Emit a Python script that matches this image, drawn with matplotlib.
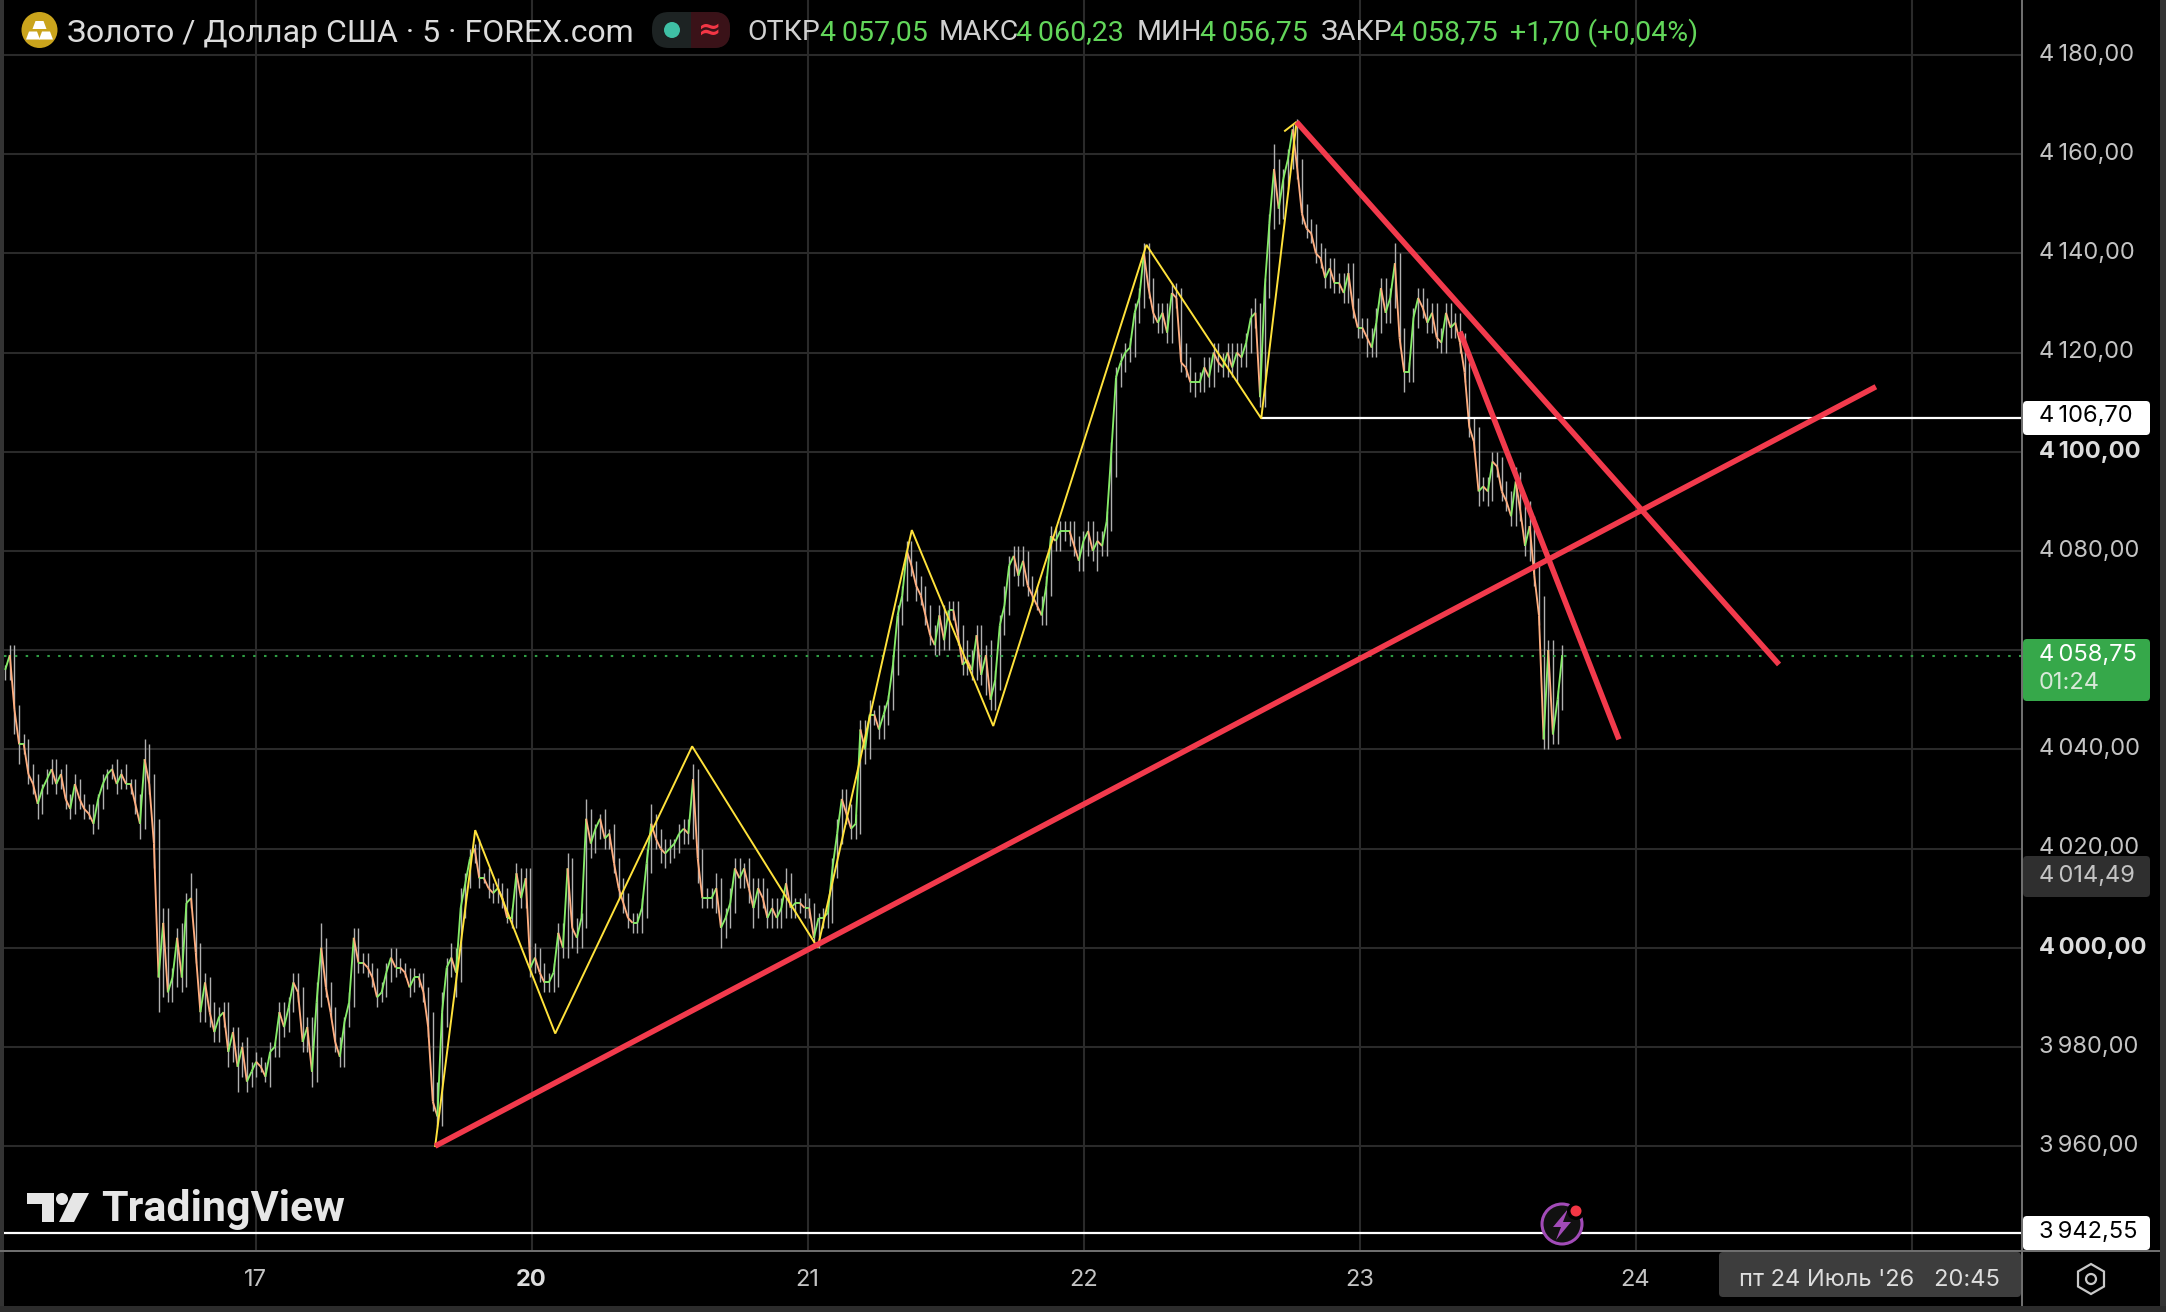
import matplotlib
matplotlib.use("Agg")
import matplotlib.pyplot as plt
from matplotlib.collections import LineCollection
from matplotlib.patches import Circle, FancyBboxPatch, Polygon, Rectangle, RegularPolygon

W, H = 2166, 1312
FONT = ["Roboto", "DejaVu Sans"]
AXFONT = ["Inter", "DejaVu Sans"]
plt.rcParams["font.family"] = FONT

# ---------- data ----------
day_labels = ["17", "20", "21", "22", "23", "24"]
price_ticks = [4180, 4160, 4140, 4120, 4100, 4080, 4060, 4040, 4020, 4000, 3980, 3960]
bold_ticks = [4100, 4000]

closes = [
 4056,4059,4048,4041,4041,4035,4033,4029,4032,4034,
 4036,4033,4035,4030,4028,4033,4030,4028,4027,4025,
 4030,4033,4035,4036,4033,4035,4033,4033,4029,4025,
 4038,4033,4021,3994,4005,3991,3994,4002,3994,4009,
 4010,3999,3987,3993,3987,3983,3986,3987,3979,3983,
 3976,3980,3973,3975,
 3977,3976,3974,3979,3980,3987,3984,3988,3993,3991,
 3981,3984,3975,3989,4000,3992,3987,3981,3978,3985,
 3989,4002,3997,3997,3996,3994,3990,3991,3995,3998,
 3996,3996,3995,3992,3994,3994,3991,3984,3969,3966,
 3987,3996,3998,3995,4008,4013,4018,4020,4014,4014,
 4012,4011,4012,4010,4006,4006,4015,4010,4014,
 3996,3998,3995,3993,3993,3995,4003,4000,4016,4004,
 4002,4006,4026,4021,4024,4026,4022,4023,4017,4012,
 4009,4006,4005,4005,4008,4017,4025,4022,4020,4019,
 4020,4021,4023,4024,4023,4034,4018,4010,4010,4010,
 4012,4004,4006,4009,4016,4014,4016,4012,4008,4012,
 4010,4006,4008,4006,4008,4013,4008,4009,4009,4008,
 4008,4002,4006,4006,4007,4016,4023,4030,4027,4024,4025,
 4044,4040,4047,4047,4044,4047,4050,4057,4067,4071,
 4080,4077,4073,4071,4067,4063,4061,4067,4062,4068,
 4068,4063,4057,4058,4056,4063,4055,4059,4050,4054,
 4065,4069,4077,4079,4075,4078,4073,4071,4069,4067,
 4073,4083,4082,4084,4084,4084,4081,4078,4082,4084,4080,4082,4081,
 4086,4100,
 4115,4118,4120,4121,4128,4131,4140,4133,4128,4126,
 4128,4124,4132,4131,4118,4117,4114,4114,4114,4117,
 4115,4120,4118,4117,4120,4117,4120,4119,4122,4127,
 4128,4111,
 4133,4146,4157,4149,4155,4159,4165,4157,4148,4145,
 4144,4140,4139,4135,4137,4134,4134,4132,4136,4129,
 4125,4125,4123,4121,4126,4133,4128,4131,4138,4123,
 4116,4116,4127,4131,4129,4126,4128,4123,4122,4128,
 4125,4126,4122,4116,4105,
 4102,4092,4093,4092,4098,4097,4092,4090,4087,4094,
 4088,4081,4085,4075,4067,4042,4060,4043,4050,4059,
]
wick_up = [
 1,2,2,1,2,1,2,2,1,2, 2,2,1,2,1,2,1,1,1,2, 1,2,1,1,2,1,2,1,1,2, 4,3,2,5,3,3,2,2,3,2, 5,2,2,2,1,2,2,2,2,1, 1,1,2,2,
 2,1,1,2,1,2,2,2,2,2, 1,2,2,4,5,2,1,1,1,1, 2,2,2,2,2,1,2,2,2,2, 2,2,1,1,2,1,1,1,3,4, 4,2,3,2,4,2,2,1,2,1, 2,1,2,1,2,2,2,1,2,
 2,3,2,2,2,2,2,2,3,2, 2,1,4,2,1,1,2,1,2,1, 2,2,1,2,2,3,4,2,2,2, 2,1,2,2,2,3,2,2,2,2, 3,2,2,3,2,2,1,2,2,2, 2,2,2,2,2,3,2,1,1,2,
 2,1,1,2,2,2,3,2,2,2,2, 2,2,3,1,2,2,1,2,2,2, 2,2,1,2,2,2,2,2,2,2, 2,2,2,4,2,2,2,2,3,2, 2,4,2,2,2,3,2,2,2,2, 2,2,2,2,2,2,2,2,2,2,2,2,2, 2,2,
 2,2,2,2,2,2,2,2,2,2, 2,2,2,2,2,4,2,2,2,2, 2,2,2,2,2,2,2,2,2,2, 3,2,
 2,2,5,2,2,2,1,2,2,2, 2,2,2,2,2,2,2,2,2,2, 2,2,2,2,3,2,2,2,4,2, 2,2,2,2,2,2,2,2,2,2, 2,2,2,2,2,
 2,3,2,2,2,2,2,2,2,3, 2,2,5,2,2,4,2,2,2,2,
]
wick_dn = [
 2,2,5,4,2,2,2,3,2,1, 1,2,1,2,2,1,2,2,1,2, 1,2,1,1,2,1,1,2,2,3, 1,2,5,7,4,2,2,2,3,2, 1,2,2,2,3,2,2,2,3,2, 5,2,2,1,
 1,1,1,2,1,2,2,1,1,2, 2,2,3,2,1,2,1,2,2,2, 1,1,2,2,2,2,2,1,1,2, 2,1,1,2,1,2,2,2,2,2, 2,3,2,5,2,2,1,1,2,1, 2,2,2,2,1,2,2,2,2,
 2,1,2,2,2,2,3,2,2,4, 3,2,2,3,2,2,2,2,2,2, 2,2,2,2,2,2,2,2,3,3, 2,2,2,2,2,1,5,2,2,2, 3,4,2,2,2,2,2,3,4,2, 2,2,2,2,2,2,2,2,2,2,
 2,2,2,2,2,2,2,2,2,2,2, 2,3,2,2,2,2,2,2,2,2, 1,2,3,2,2,2,2,2,2,2, 2,2,2,2,2,2,2,4,2,2, 2,2,2,2,2,2,2,2,1,2, 2,2,2,2,2,3,2,2,2,3,2,4,2, 2,2,
 5,2,2,2,2,2,2,2,2,2, 2,2,2,2,2,2,2,3,2,2, 2,2,2,2,2,2,3,2,2,2, 2,2,
 2,2,1,3,2,2,2,2,2,2, 2,2,2,2,2,2,2,2,2,2, 2,2,4,2,2,2,2,2,2,2, 4,2,2,2,2,2,2,2,2,2, 2,2,2,2,2,
 2,3,2,3,2,2,2,2,2,2, 2,2,3,2,2,2,2,2,2,2,
]
first_bar_day = -0.907
bar_step_day = 0.01684

zigzag_days = [0.651, 0.796, 1.086, 1.582, 2.037, 2.378, 2.673, 3.228, 3.644, 3.772, 3.730]
zigzag_prices = [3960, 4023.7, 3982.7, 4040.6, 4000, 4084.2, 4044.7, 4141.7, 4106.7, 4166.5, 4164.7]
trend_up_days, trend_up_prices = [0.651, 5.871], [3960, 4113.1]
trend_dn_days, trend_dn_prices = [3.772, 5.520], [4166.5, 4057.1]
trend_steep_days, trend_steep_prices = [4.364, 4.940], [4124.2, 4042]
level_hi, level_hi_day = 4106.7, 3.644
level_lo = 3942.55
last_price = 4058.75

# ---------- frame ----------
fig = plt.figure(figsize=(W / 100, H / 100), dpi=100, facecolor="black")
L, R, B = 4, 2021, 1250
ax = fig.add_axes([L / W, 1 - B / H, (R - L) / W, B / H], facecolor="black", zorder=1)
ax.set_xlim((L - 255.5) / 276, (R - 255.5) / 276)
ax.set_ylim(4100 - (B - 451.7) / 4.96, 4100 + 451.7 / 4.96)
for s in ax.spines.values():
    s.set_visible(False)
ax.tick_params(left=False, bottom=False, labelleft=False, labelbottom=False)
ax.set_xticks(range(7))
ax.set_yticks(price_ticks)
ax.grid(True, color="#2a2a2a", lw=1.5)
ax.set_axisbelow(True)

# ---------- candles ----------
opens = [closes[0]] + closes[:-1]
xs = [first_bar_day + i * bar_step_day for i in range(len(closes))]
highs = [max(o, c) + u for o, c, u in zip(opens, closes, wick_up)]
lows = [min(o, c) - d for o, c, d in zip(opens, closes, wick_dn)]
ax.vlines(xs, lows, highs, color="#b0b0b0", lw=1.0, zorder=2)
body_colors = ["#86ec68" if c >= o else "#ffae80" for o, c in zip(opens, closes)]
segs = [[(xs[max(i - 1, 0)], opens[i]), (xs[i], closes[i])] for i in range(len(closes))]
ax.add_collection(LineCollection(segs, colors=body_colors, linewidths=1.35, zorder=3))

# ---------- levels & drawings ----------
ax.axhline(last_price, color="#2f9e44", lw=1.5, ls=(0, (1.2, 4)), zorder=2)
ax.plot([level_hi_day, 7], [level_hi, level_hi], color="white", lw=1.6, zorder=4, solid_capstyle="butt")
ax.axhline(level_lo, color="white", lw=1.6, zorder=4)
ax.plot(zigzag_days, zigzag_prices, color="#ffe23b", lw=1.4, zorder=5, solid_joinstyle="miter")
red = "#f23a4c"
for dx, dy in [(trend_up_days, trend_up_prices), (trend_dn_days, trend_dn_prices),
               (trend_steep_days, trend_steep_prices)]:
    ax.plot(dx, dy, color=red, lw=4.0, zorder=6, solid_capstyle="butt")

# ---------- chrome overlay in pixels ----------
ov = fig.add_axes([0, 0, 1, 1], zorder=2)
ov.set_xlim(0, W)
ov.set_ylim(H, 0)
ov.axis("off")
ov.patch.set_alpha(0)

ov.add_patch(Rectangle((0, 0), 4, H, color="#333333", lw=0))
ov.add_patch(Rectangle((2160, 0), 6, H, color="#333333", lw=0))
ov.add_patch(Rectangle((0, 1306), W, 6, color="#2c2c2c", lw=0))
ov.add_patch(Rectangle((R, 0), 2.2, 1306, color="#6e6e6e", lw=0))
ov.add_patch(Rectangle((0, B), 2160, 2.2, color="#6e6e6e", lw=0))


def box(x0, y0, x1, y1, color):
    ov.add_patch(FancyBboxPatch((x0, y0), x1 - x0, y1 - y0, boxstyle="round,pad=0,rounding_size=4",
                                fc=color, ec="none", zorder=8))


GREY = "#c4c4c4"
FS = 17.0


def ptext(y, s, color, **kw):
    ov.text(2039, y, s, color=color, fontsize=FS, va="center", ha="left", family=AXFONT, **kw)


for p in price_ticks:
    y = 451.7 + (4100 - p) * 4.96
    s = f"{p // 1000}\u2009{p % 1000:03d},00"
    ptext(y, s, "#dddddd" if p in bold_ticks else GREY,
          fontweight="bold" if p in bold_ticks else "normal", zorder=7)

box(2023, 401, 2150, 435, "white")
ptext(416.5, "4\u2009106,70", "black", zorder=9)
box(2023, 856, 2150, 897, "#2f2f2f")
ptext(875.5, "4\u2009014,49", GREY, zorder=9)
box(2023, 639, 2150, 701, "#36a84a")
ptext(655, "4\u2009058,75", "white", zorder=9)
ptext(683, "01:24", "#d8e8d8", zorder=9)
box(2023, 1216, 2150, 1250, "white")
ptext(1232.5, "3\u2009942,55", "black", zorder=9)

for i, d in enumerate(day_labels):
    ov.text(255.5 + 276 * i, 1280, d, color="#dddddd" if d == "20" else GREY, fontsize=17, family=AXFONT,
            fontweight="bold" if d == "20" else "normal", ha="center", va="center", zorder=7)
box(1719, 1252, R, 1297, "#3d3d3d")
ov.text(1869, 1280, "пт 24 Июль '26   20:45", color="#dedede", fontsize=17, ha="center", va="center",
        family=AXFONT, zorder=9)
ov.add_patch(RegularPolygon((2091, 1279), 6, radius=15, fc="none", ec="#c8c8c8", lw=1.6, zorder=7))
ov.add_patch(Circle((2091, 1279), 5, fc="none", ec="#c8c8c8", lw=1.6, zorder=7))

# lightning badge
ov.add_patch(Circle((1562, 1224), 20, fc="#111111", ec="#a24bb8", lw=2.2, zorder=7))
ov.add_patch(Polygon([(1568, 1209), (1553, 1227), (1561, 1227), (1556, 1240), (1571, 1222), (1563, 1222)],
                     fc="#a24bb8", ec="none", zorder=8))
ov.add_patch(Circle((1576, 1211), 9, fc="black", ec="none", zorder=8))
ov.add_patch(Circle((1576, 1211), 5.5, fc="#f23645", ec="none", zorder=9))

# TradingView logo
LOGO = "#e6e6e6"
ov.add_patch(Polygon([(27, 1193), (54, 1193), (54, 1222), (42, 1222), (42, 1204), (27, 1204)], fc=LOGO, ec="none", zorder=7))
ov.add_patch(Circle((62, 1199), 6, fc=LOGO, ec="none", zorder=7))
ov.add_patch(Polygon([(73, 1193), (89, 1193), (74, 1222), (59, 1222)], fc=LOGO, ec="none", zorder=7))
ov.text(101, 1210, "TradingView", color=LOGO, fontsize=31, fontweight="bold", va="center", ha="left", zorder=7)

# header
ov.add_patch(Circle((39.5, 30), 18, fc="#caa41c", ec="none", zorder=7))
for (bx, by) in [(33.5, 21), (27, 31.5), (40, 31.5)]:
    ov.add_patch(Polygon([(bx + 2, by), (bx + 10, by), (bx + 13, by + 8), (bx - 1, by + 8)], fc="white", ec="none", zorder=8))
ov.text(67, 33, "Золото / Доллар США · 5 · FOREX.com", color="#dcdcdc", fontsize=23.0, va="center", zorder=7)
ov.add_patch(FancyBboxPatch((652, 12), 78, 36, boxstyle="round,pad=0,rounding_size=17", fc="#1d2323", ec="none", zorder=7))
ov.add_patch(FancyBboxPatch((691, 12), 39, 36, boxstyle="round,pad=0,rounding_size=16", fc="#3a1218", ec="none", zorder=8))
ov.add_patch(Rectangle((691, 12), 14, 36, fc="#3a1218", ec="none", zorder=8))
ov.add_patch(Circle((672, 30), 8, fc="#3fc0a5", ec="none", zorder=9))
ov.text(710, 30, "≈", color="#f23645", fontsize=20, fontweight="bold", ha="center", va="center", zorder=9,
        family=["DejaVu Sans"])
HF = 20.5
hdr = [(747, "ОТКР", "#d0d0d0"), (820, "4\u2009057,05", "#62d65a"), (939, "МАКС", "#d0d0d0"),
       (1016, "4\u2009060,23", "#62d65a"), (1137, "МИН", "#d0d0d0"), (1200, "4\u2009056,75", "#62d65a"),
       (1321, "ЗАКР", "#d0d0d0"), (1390, "4\u2009058,75", "#62d65a"), (1510, "+1,70 (+0,04%)", "#62d65a")]
for x, s, c in hdr:
    ov.text(x, 32.5, s, color=c, fontsize=HF, va="center", zorder=7)

fig.savefig("out.png", dpi=100, facecolor="black")
